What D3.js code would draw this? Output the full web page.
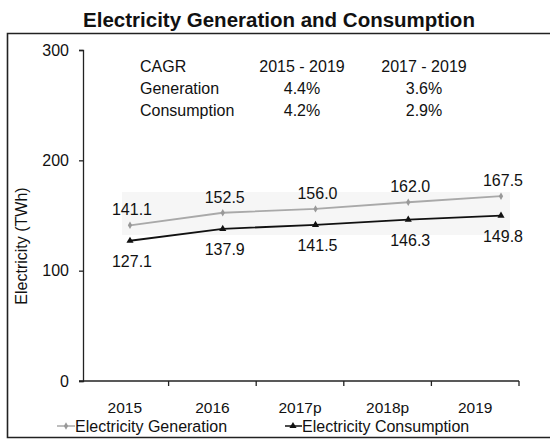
<!DOCTYPE html>
<html>
<head>
<meta charset="utf-8">
<script src="https://cdn.jsdelivr.net/npm/d3@7"></script>
<style>
  html, body { margin: 0; padding: 0; background: #fff; }
  svg { display: block; font-family: "Liberation Sans", Arial, sans-serif; }
</style>
</head>
<body>
<svg id="chart" width="550" height="439"></svg>
<script>
// Years on the category axis
const years = ["2015", "2016", "2017p", "2018p", "2019"];
// Electricity (TWh)
const generation = [141.1, 152.5, 156.0, 162.0, 167.5];
const consumption = [127.1, 137.9, 141.5, 146.3, 149.8];
// Value-axis ticks
const yTicks = [0, 100, 200, 300];
// CAGR summary table
const cagrHeader = ["CAGR", "2015 - 2019", "2017 - 2019"];
const cagrRows = [
  ["Generation", "4.4%", "3.6%"],
  ["Consumption", "4.2%", "2.9%"]
];
const seriesNames = ["Electricity Generation", "Electricity Consumption"];

const svg = d3.select("#chart");
const genColor = "#a9a9a9";
const conColor = "#111";

// Frame
svg.append("path")
  .attr("d", "M560,33.5 H7.5 V437.5 H560")
  .attr("fill", "none").attr("stroke", "#222").attr("stroke-width", 1.6);

// Title
svg.append("text").attr("x", 279).attr("y", 27)
  .attr("text-anchor", "middle").attr("font-size", 20.5).attr("font-weight", "bold")
  .attr("fill", "#111").text("Electricity Generation and Consumption");

const y = d3.scaleLinear().domain([0, 300]).range([381, 50]);
const xBand = d3.scaleBand().domain(years).range([81, 519]);
const xPt = d3.scalePoint().domain(years).range([130, 501]);

// faint band behind the lines
svg.append("rect").attr("x", 122).attr("y", 192).attr("width", 388).attr("height", 43)
  .attr("fill", "#f6f6f6");

// Y axis
const yAxis = svg.append("g").attr("transform", "translate(83,0)")
  .call(d3.axisLeft(y).tickValues(yTicks).tickSize(4).tickPadding(10));
yAxis.select(".domain").attr("stroke", "#222").attr("stroke-width", 1.3);
yAxis.selectAll(".tick line").attr("stroke", "#222").attr("stroke-width", 1.3);
yAxis.selectAll(".tick text").attr("font-size", 16).attr("fill", "#111")
  .attr("font-family", "Liberation Sans, Arial, sans-serif");

// X axis
const xAxis = svg.append("g").attr("transform", "translate(0,381)")
  .call(d3.axisBottom(xBand).tickSize(0).tickPadding(21));
xAxis.select(".domain").attr("stroke", "#222").attr("stroke-width", 1.3)
  .attr("d", "M79,0H519");
xAxis.selectAll(".tick text").attr("font-size", 15.5).attr("fill", "#111")
  .attr("font-family", "Liberation Sans, Arial, sans-serif");
// category separators
xAxis.selectAll(".sep").data(years).enter().append("line")
  .attr("x1", d => xBand(d) + xBand.bandwidth()).attr("x2", d => xBand(d) + xBand.bandwidth())
  .attr("y1", 0).attr("y2", 5).attr("stroke", "#222").attr("stroke-width", 1.3);

// Y axis title
svg.append("text").attr("transform", "translate(27,246) rotate(-90)")
  .attr("text-anchor", "middle").attr("font-size", 16).attr("fill", "#111")
  .text("Electricity (TWh)");

// Lines
const line = vals => d3.line().x((d, i) => xPt(years[i])).y(d => y(d))(vals);
svg.append("path").attr("d", line(generation)).attr("fill", "none")
  .attr("stroke", genColor).attr("stroke-width", 1.8);
svg.append("path").attr("d", line(consumption)).attr("fill", "none")
  .attr("stroke", conColor).attr("stroke-width", 1.8);

// Markers
const tri = d3.symbol().type(d3.symbolTriangle).size(22);
const dia = d3.symbol().type(d3.symbolDiamond).size(16);
svg.selectAll(".gm").data(generation).enter().append("path")
  .attr("d", dia).attr("fill", "#999")
  .attr("transform", (d, i) => `translate(${xPt(years[i])},${y(d)})`);
svg.selectAll(".cm").data(consumption).enter().append("path")
  .attr("d", tri).attr("fill", conColor)
  .attr("transform", (d, i) => `translate(${xPt(years[i])},${y(d)})`);

// Value labels
svg.selectAll(".gl").data(generation).enter().append("text")
  .attr("x", (d, i) => xPt(years[i]) + 2).attr("y", d => y(d) - 10)
  .attr("text-anchor", "middle").attr("font-size", 16).attr("fill", "#111")
  .text(d => d.toFixed(1));
svg.selectAll(".cl").data(consumption).enter().append("text")
  .attr("x", (d, i) => xPt(years[i]) + 2).attr("y", d => y(d) + 26)
  .attr("text-anchor", "middle").attr("font-size", 16).attr("fill", "#111")
  .text(d => d.toFixed(1));

// CAGR table
const colX = [140, 302, 424];
const rowY = [72, 94, 116];
const table = [cagrHeader, ...cagrRows];
table.forEach((row, r) => {
  row.forEach((cell, c) => {
    svg.append("text").attr("x", colX[c]).attr("y", rowY[r])
      .attr("text-anchor", c === 0 ? "start" : "middle")
      .attr("font-size", 16).attr("fill", "#111").text(cell);
  });
});

// Legend
const leg = svg.append("g");
leg.append("line").attr("x1", 57).attr("x2", 75).attr("y1", 426).attr("y2", 426)
  .attr("stroke", genColor).attr("stroke-width", 1.5);
leg.append("path").attr("d", dia).attr("fill", "#999").attr("transform", "translate(66,426)");
leg.append("text").attr("x", 75).attr("y", 432).attr("font-size", 16).attr("fill", "#111").text(seriesNames[0]);
leg.append("line").attr("x1", 285).attr("x2", 302).attr("y1", 426).attr("y2", 426)
  .attr("stroke", conColor).attr("stroke-width", 1.5);
leg.append("path").attr("d", tri).attr("fill", conColor).attr("transform", "translate(293,426)");
leg.append("text").attr("x", 302).attr("y", 432).attr("font-size", 16).attr("fill", "#111").text(seriesNames[1]);
</script>
</body>
</html>
